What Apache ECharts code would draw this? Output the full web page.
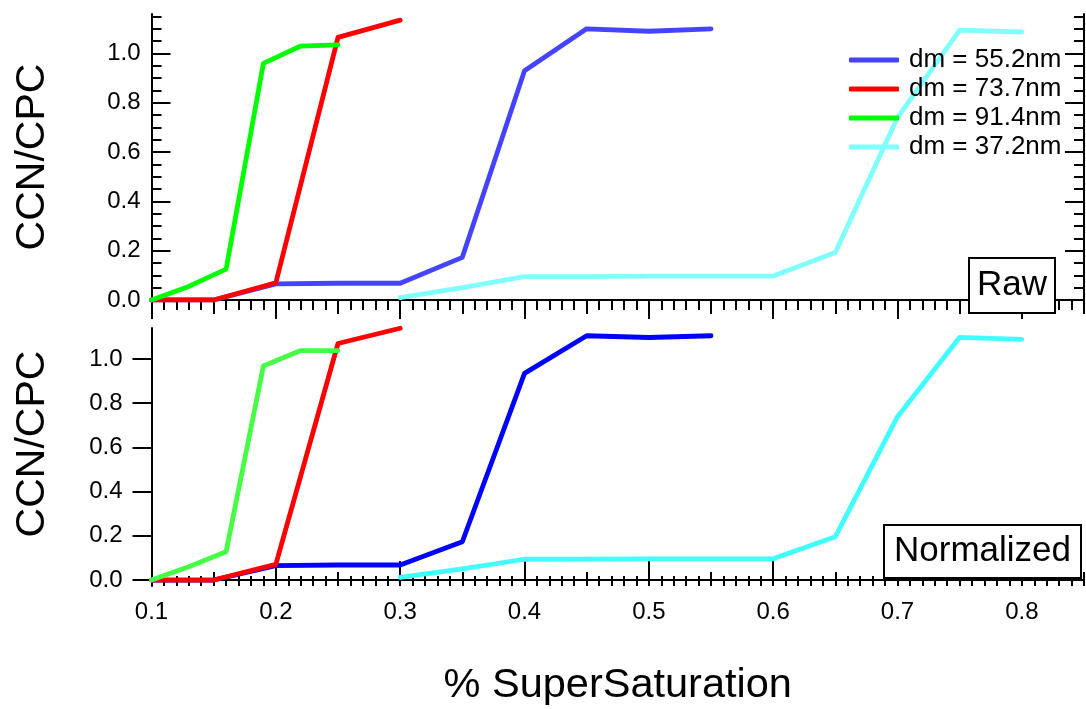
<!DOCTYPE html>
<html><head><meta charset="utf-8">
<script src="https://cdn.jsdelivr.net/npm/echarts@6/dist/echarts.min.js"></script>
<style>html,body{margin:0;padding:0;background:#fff}#c{width:1086px;height:709px}</style>
</head><body><div id="c"></div>
<script>
// ---------- DATA ----------
const seriesNames = ['dm = 55.2nm', 'dm = 73.7nm', 'dm = 91.4nm', 'dm = 37.2nm'];

// Raw panel
const rawX55 = [0.10, 0.15, 0.20, 0.25, 0.30, 0.35, 0.40, 0.45, 0.50, 0.55];
const rawY55 = [0.00, 0.00, 0.065, 0.068, 0.068, 0.173, 0.93, 1.10, 1.09, 1.10];
const rawX73 = [0.10, 0.15, 0.20, 0.25, 0.30];
const rawY73 = [0.00, 0.00, 0.07, 1.065, 1.135];
const rawX91 = [0.10, 0.13, 0.16, 0.19, 0.22, 0.25];
const rawY91 = [0.00, 0.055, 0.125, 0.96, 1.03, 1.035];
const rawX37 = [0.30, 0.35, 0.40, 0.45, 0.50, 0.55, 0.60, 0.65, 0.70, 0.75, 0.80];
const rawY37 = [0.01, 0.05, 0.095, 0.095, 0.097, 0.097, 0.097, 0.193, 0.74, 1.095, 1.087];

// Normalized panel
const normX55 = [0.10, 0.15, 0.20, 0.25, 0.30, 0.35, 0.40, 0.45, 0.50, 0.55];
const normY55 = [0.00, 0.00, 0.065, 0.068, 0.068, 0.173, 0.935, 1.105, 1.097, 1.105];
const normX73 = [0.10, 0.15, 0.20, 0.25, 0.30];
const normY73 = [0.00, 0.00, 0.071, 1.07, 1.139];
const normX91 = [0.10, 0.13, 0.16, 0.19, 0.22, 0.25];
const normY91 = [0.00, 0.06, 0.128, 0.968, 1.038, 1.038];
const normX37 = [0.30, 0.35, 0.40, 0.45, 0.50, 0.55, 0.60, 0.65, 0.70, 0.75, 0.80];
const normY37 = [0.012, 0.05, 0.094, 0.095, 0.096, 0.096, 0.096, 0.196, 0.739, 1.098, 1.089];

// Tick labels
const xTickLabels = [0.1, 0.2, 0.3, 0.4, 0.5, 0.6, 0.7, 0.8];
const yTickLabels = [0.0, 0.2, 0.4, 0.6, 0.8, 1.0];
const panelLabels = ['Raw', 'Normalized'];
const xTitle = '% SuperSaturation';
const yTitle = 'CCN/CPC';

// ---------- BUILD ----------
const FONT = "'Liberation Sans', Arial, sans-serif";
const r2 = v => Math.round(v * 1000) / 1000;
function steps(a, b, s) { const out = []; for (let v = a; v <= b + 1e-9; v += s) out.push(r2(v)); return out; }
const xMedium = steps(0.15, 0.85, 0.1);
const xMinor = steps(0.1, 0.85, 0.01);
const yMinor = steps(0, 1.15, 0.05);

const pairs = (xs, ys) => xs.map((x, i) => [x, ys[i]]);
const topColors = ['#4444ff', '#ff0000', '#00ff00', '#80ffff'];
const botColors = ['#0000ff', '#ff0000', '#44ff44', '#40ffff'];
const rawSets = [[rawX55, rawY55], [rawX73, rawY73], [rawX91, rawY91], [rawX37, rawY37]];
const normSets = [[normX55, normY55], [normX73, normY73], [normX91, normY91], [normX37, normY37]];

const X_MIN = 0.1, X_MAX = 0.85;
const lineAx = { show: true, lineStyle: { color: '#000', width: 2 } };
const noLine = { show: false };

function xAx(grid, pos, ticks, len, opts) {
  return Object.assign({
    type: 'value', gridIndex: grid, position: pos, min: X_MIN, max: X_MAX,
    axisLine: noLine, splitLine: { show: false },
    axisTick: { show: true, inside: true, length: len, customValues: ticks, lineStyle: { color: '#000', width: 2 } },
    axisLabel: { show: false }
  }, opts || {});
}
function yAx(grid, pos, min, max, ticks, len, inside, opts) {
  return Object.assign({
    type: 'value', gridIndex: grid, position: pos, min: min, max: max,
    axisLine: noLine, splitLine: { show: false },
    axisTick: { show: true, inside: inside, length: len, customValues: ticks, lineStyle: { color: '#000', width: 2 } },
    axisLabel: { show: false }
  }, opts || {});
}

const labelStyle = { fontSize: 24, color: '#000', fontFamily: FONT };
const fmt = v => v.toFixed(1);
const titleStyle = { fontSize: 41, color: '#000', fontFamily: FONT };

const xAxis = [
  xAx(0, 'top', xTickLabels, 19, { axisLine: lineAx }),
  xAx(0, 'top', xMedium, 14),
  xAx(0, 'top', xMinor, 10),
  xAx(1, 'bottom', xTickLabels, 19, {
    axisLine: lineAx,
    axisLabel: Object.assign({ show: true, customValues: xTickLabels, formatter: fmt, margin: 14 }, labelStyle),
    name: xTitle, nameLocation: 'middle', nameGap: 79,
    nameTextStyle: Object.assign({}, titleStyle, { fontSize: 41.5 })
  }),
  xAx(1, 'bottom', xMedium, 14),
  xAx(1, 'bottom', xMinor, 10)
];

const TOP_MAX = 1.16, BOT_MIN = -0.027, BOT_MAX = 1.14;
const yAxis = [
  yAx(0, 'left', 0, TOP_MAX, yTickLabels, 19, true, {
    axisLine: lineAx,
    axisLabel: Object.assign({ show: true, customValues: yTickLabels, formatter: fmt, margin: 11 }, labelStyle),
    name: yTitle, nameLocation: 'middle', nameGap: 98, nameRotate: 90,
    nameTextStyle: titleStyle
  }),
  yAx(0, 'left', 0, TOP_MAX, yMinor, 10, true),
  yAx(0, 'right', 0, TOP_MAX, yTickLabels, 19, true, { axisLine: lineAx }),
  yAx(0, 'right', 0, TOP_MAX, yMinor, 10, true),
  yAx(1, 'left', BOT_MIN, BOT_MAX, yTickLabels, 19, false, {
    axisLine: lineAx,
    axisLabel: Object.assign({ show: true, customValues: yTickLabels, formatter: fmt, margin: 29 }, labelStyle),
    name: yTitle, nameLocation: 'middle', nameGap: 98, nameRotate: 90,
    nameTextStyle: Object.assign({}, titleStyle, { padding: [0, 0, 0, 26] })
  })
];

const series = [];
rawSets.forEach((s, i) => series.push({
  name: seriesNames[i], type: 'line', xAxisIndex: 0, yAxisIndex: 0,
  data: pairs(s[0], s[1]), symbol: 'none', silent: true, animation: false,
  lineStyle: { color: topColors[i], width: 4.8, cap: 'round', join: 'round' },
  itemStyle: { color: topColors[i] }
}));
normSets.forEach((s, i) => series.push({
  name: seriesNames[i] + ' (norm)', type: 'line', xAxisIndex: 3, yAxisIndex: 4,
  data: pairs(s[0], s[1]), symbol: 'none', silent: true, animation: false,
  lineStyle: { color: botColors[i], width: 4.8, cap: 'round', join: 'round' },
  itemStyle: { color: botColors[i] }
}));

const boxStyle = { borderColor: '#000', borderWidth: 2, backgroundColor: '#fff' };
const option = {
  backgroundColor: '#fff',
  animation: false,
  grid: [
    { left: 151.5, width: 932.5, top: 14, height: 286, containLabel: false },
    { left: 151.5, width: 932.5, top: 328, height: 258, containLabel: false }
  ],
  xAxis: xAxis,
  yAxis: yAxis,
  legend: {
    data: seriesNames, orient: 'vertical', left: 844, top: 42, padding: 5,
    icon: 'roundRect', itemWidth: 50, itemHeight: 5, itemGap: 3, selectedMode: false,
    textStyle: { fontSize: 26, color: '#000', fontFamily: FONT, padding: [0, 0, 0, 5] }
  },
  title: [
    Object.assign({ text: panelLabels[0], left: 969, top: 258, padding: [10, 8, 10, 8],
      textStyle: { fontSize: 35, fontWeight: 'normal', color: '#000', fontFamily: FONT } }, boxStyle),
    Object.assign({ text: panelLabels[1], left: 884, top: 525, padding: [9, 10, 9, 10],
      textStyle: { fontSize: 35, fontWeight: 'normal', color: '#000', fontFamily: FONT } }, boxStyle)
  ],
  series: series
};
const chart = echarts.init(document.getElementById('c'), null, { renderer: 'canvas' });
chart.setOption(option);
</script></body></html>
